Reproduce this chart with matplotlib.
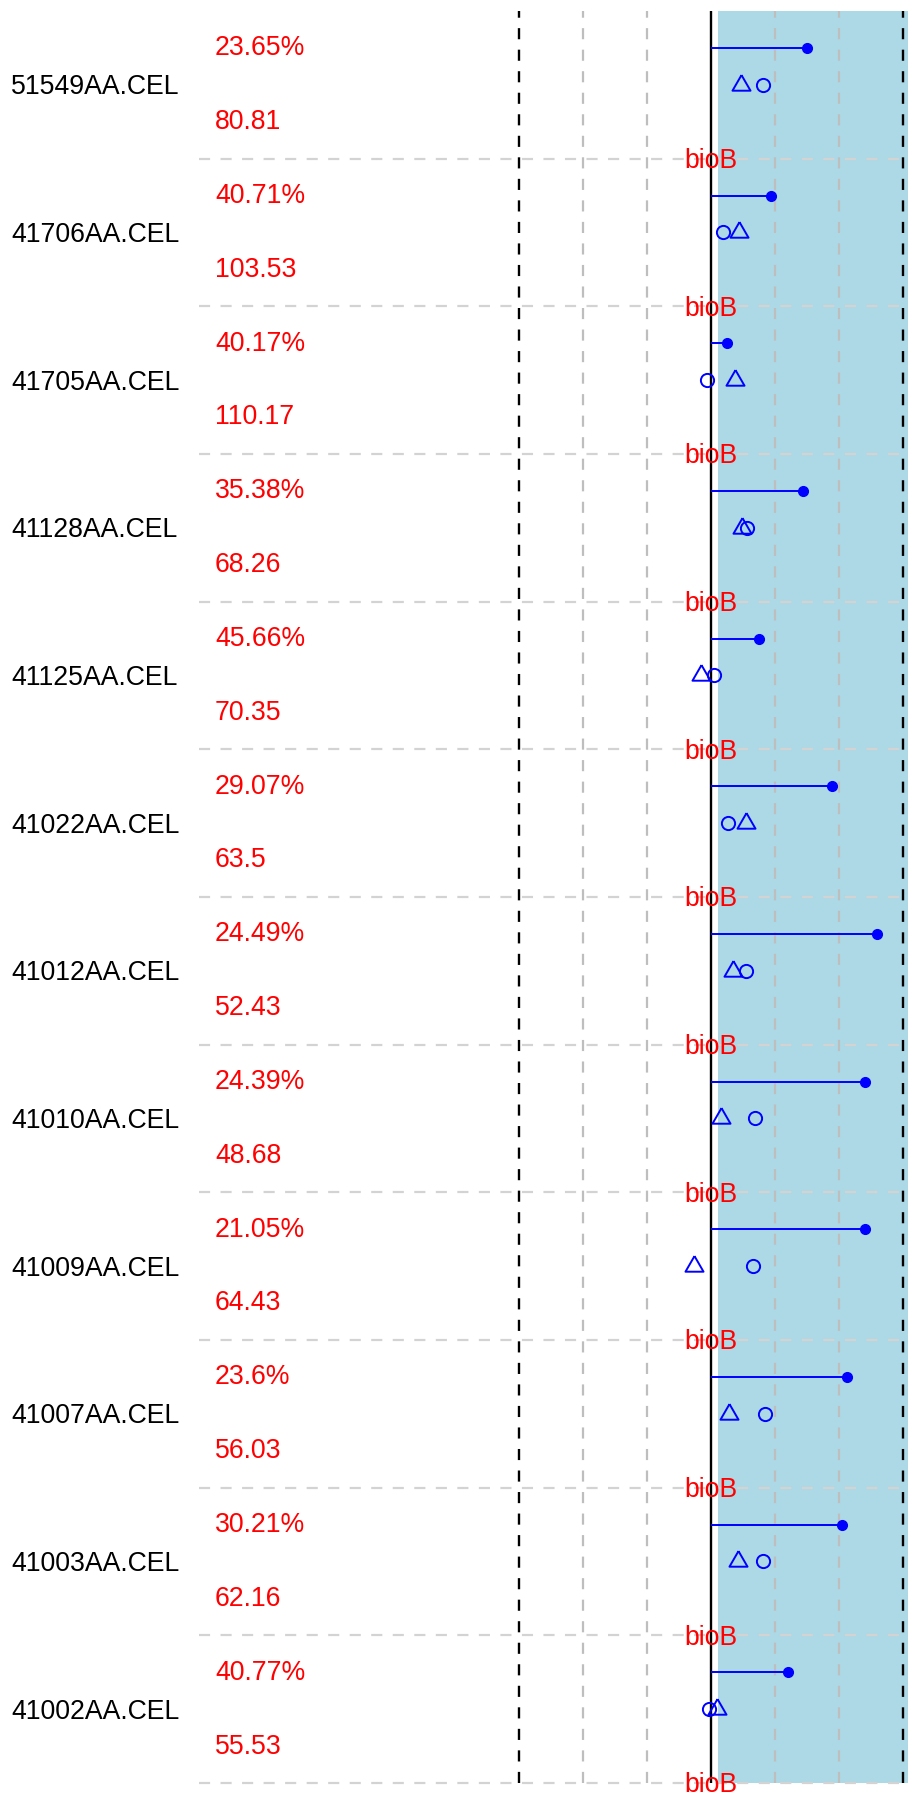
import matplotlib
matplotlib.use("Agg")
import matplotlib.pyplot as plt
import numpy as np

plt.rcParams['font.family'] = ['Liberation Sans', 'DejaVu Sans']
plt.rcParams['lines.scale_dashes'] = False

# ---- data (top to bottom) ----
samples = ["51549AA.CEL", "41706AA.CEL", "41705AA.CEL", "41128AA.CEL",
           "41125AA.CEL", "41022AA.CEL", "41012AA.CEL", "41010AA.CEL",
           "41009AA.CEL", "41007AA.CEL", "41003AA.CEL", "41002AA.CEL"]
percent_present = [23.65, 40.71, 40.17, 35.38, 45.66, 29.07,
                   24.49, 24.39, 21.05, 23.6, 30.21, 40.77]
avg_background = [80.81, 103.53, 110.17, 68.26, 70.35, 63.5,
                  52.43, 48.68, 64.43, 56.03, 62.16, 55.53]
scale_factor_log2 = [1.50, 0.93, 0.245, 1.43, 0.755, 1.89,
                     2.60, 2.41, 2.40, 2.13, 2.05, 1.20]
gapdh_ratio_log2 = [0.47, 0.44, 0.37, 0.48, -0.16, 0.54,
                    0.35, 0.15, -0.27, 0.28, 0.42, 0.10]
actin_ratio_log2 = [0.81, 0.19, -0.06, 0.56, 0.047, 0.27,
                    0.54, 0.68, 0.65, 0.85, 0.81, -0.03]
spike_label = "bioB"
sf_ok_region = (0.11, 3.5)
fc_lines = [-3, 3]
grid_lines = [-2, -1, 1, 2]

n = len(samples)
base = np.arange(n)[::-1]  # bottom of each row in data units

# ---- figure ----
W, H = 908, 1798
fig = plt.figure(figsize=(W / 100, H / 100), dpi=100)
ax = fig.add_axes([0, 0, 1, 1])
ax.axis('off')
ux, uy = 64.0, 147.67
x0px, y0px = 711.0, 1783.0
ax.set_xlim(-x0px / ux, (W - x0px) / ux)
ax.set_ylim((y0px - H) / uy, y0px / uy)

fs = 19.2
em_units = 26.5 / uy
cap_half = 0.358 * em_units

# blue OK region
ax.add_patch(plt.Rectangle((sf_ok_region[0], 0), sf_ok_region[1] - sf_ok_region[0], n,
                           facecolor='#ADD8E6', edgecolor='none', zorder=0))

dash = (0, (8, 7.5))
# horizontal separators
ax.hlines(base, -8, 4, colors='#D3D3D3', linestyles=[dash], linewidth=1.6, zorder=1)
# vertical grid lines
ax.vlines(grid_lines, 0, n, colors='#BEBEBE', linestyles=[dash], linewidth=1.6, zorder=1)
ax.vlines(fc_lines, 0, n, colors='black', linestyles=[dash], linewidth=1.7, zorder=2)
ax.vlines([0], 0, n, colors='black', linewidth=1.7, zorder=3)

# scale factor bars
ybar = base + 0.75
ax.hlines(ybar, 0, scale_factor_log2, colors='blue', linewidth=1.4, zorder=4)
ax.plot(scale_factor_log2, ybar, 'o', color='blue', markersize=7, zorder=5)

# 3'/5' ratios
ymk = base + 0.5
tri = [(0, 1.555), (1.347, -0.778), (-1.347, -0.778), (0, 1.555)]
ax.plot(gapdh_ratio_log2, ymk, linestyle='none', marker=tri, markersize=15,
        markerfacecolor='none', markeredgecolor='blue', markeredgewidth=1.4, zorder=5)
ax.plot(actin_ratio_log2, ymk, linestyle='none', marker='o', markersize=9.5,
        markerfacecolor='none', markeredgecolor='blue', markeredgewidth=1.4, zorder=5)

# texts
name_x = (11 - x0px) / ux
pct_x = (215 - x0px) / ux
for i in range(n):
    b = base[i]
    ax.text(name_x, b + 0.5 - cap_half, samples[i], fontsize=fs, color='black',
            ha='left', va='baseline', zorder=6)
    ax.text(pct_x, b + 0.764 - cap_half, f"{percent_present[i]:g}%", fontsize=fs,
            color='red', ha='left', va='baseline', zorder=6)
    ax.text(pct_x, b + 0.264 - cap_half, f"{avg_background[i]:g}", fontsize=fs,
            color='red', ha='left', va='baseline', zorder=6)
    ax.text(0, b - cap_half, spike_label, fontsize=fs, color='red',
            ha='center', va='baseline', zorder=6)

fig.savefig("out.png", dpi=100, facecolor='white')
